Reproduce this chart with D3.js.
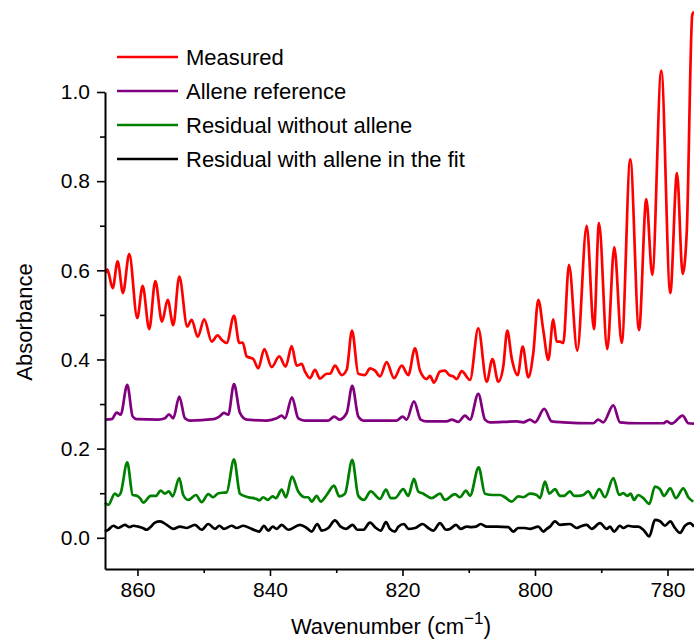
<!DOCTYPE html>
<html>
<head>
<meta charset="utf-8">
<script src="https://cdn.jsdelivr.net/npm/d3@7"></script>
<style>
  body { margin: 0; background: #fff; }
  text { font-family: "Liberation Sans", Arial, sans-serif; }
</style>
</head>
<body>
<div id="spectra"></div>
<script>
    // datos (numero de onda en cm-1, absorbancia)
    var measuredWn = [864.75,864.56,863.74,862.99,862.19,861.24,860.03,859.22,858.22,857.31,
      856.30,855.44,854.60,853.69,852.48,851.82,850.91,849.92,848.80,847.90,
      847.29,846.54,845.43,844.63,844.12,843.52,842.52,841.77,840.86,839.74,
      838.60,837.63,836.72,835.97,835.22,834.72,833.96,833.21,832.45,831.44,
      830.94,830.19,829.18,828.42,827.62,826.67,825.66,824.91,824.15,823.40,
      822.39,821.28,820.12,819.13,818.11,817.36,816.35,815.85,815.25,814.34,
      813.59,812.94,812.33,811.82,811.06,809.81,808.56,807.29,806.42,805.54,
      804.79,804.18,803.52,802.61,801.86,801.01,800.26,799.50,798.75,797.99,
      797.24,796.73,796.23,795.73,794.87,793.62,792.20,791.10,790.34,789.09,
      788.03,786.91,785.62,784.30,783.20,782.30,780.94,779.58,778.57,777.71,
      777.10,776.26,776.0];
    var measuredAbs = [0.594,0.602,0.560,0.620,0.549,0.637,0.493,0.565,0.468,0.576,
      0.485,0.534,0.477,0.586,0.474,0.489,0.451,0.490,0.440,0.454,
      0.444,0.437,0.498,0.437,0.438,0.407,0.401,0.380,0.423,0.383,
      0.407,0.384,0.430,0.386,0.390,0.373,0.358,0.377,0.357,0.368,
      0.368,0.386,0.365,0.377,0.465,0.368,0.365,0.380,0.375,0.362,
      0.394,0.358,0.386,0.365,0.425,0.375,0.356,0.363,0.348,0.373,
      0.375,0.365,0.362,0.356,0.374,0.354,0.470,0.350,0.401,0.350,
      0.384,0.465,0.403,0.365,0.429,0.360,0.414,0.534,0.466,0.399,
      0.490,0.440,0.440,0.437,0.612,0.420,0.700,0.468,0.706,0.423,
      0.652,0.437,0.849,0.466,0.760,0.590,1.048,0.549,0.818,0.592,
      0.684,1.173,1.18];

    var alleneWn = [864.91,863.89,863.14,862.54,861.54,860.72,860.12,856.86,855.85,855.25,
      854.60,853.69,852.83,852.08,848.56,847.65,846.94,846.30,845.43,844.53,
      843.52,840.50,838.99,838.23,837.74,836.68,835.73,834.72,831.20,830.30,
      829.54,828.42,827.58,826.67,825.92,820.88,819.97,819.37,818.27,817.25,
      816.35,813.33,812.57,811.58,810.57,809.81,808.56,807.55,806.79,802.76,
      801.77,800.76,800.00,798.60,797.48,795.73,791.20,790.45,789.69,788.18,
      787.17,784.65,780.63,780.12,779.37,777.71,776.86,776.00];
    var alleneAbs = [0.265,0.266,0.281,0.276,0.343,0.272,0.266,0.265,0.268,0.277,
      0.268,0.317,0.268,0.263,0.266,0.272,0.280,0.276,0.345,0.280,
      0.265,0.263,0.268,0.274,0.268,0.315,0.268,0.263,0.263,0.272,
      0.265,0.280,0.341,0.272,0.263,0.263,0.272,0.265,0.306,0.265,
      0.261,0.261,0.265,0.260,0.274,0.265,0.323,0.265,0.259,0.261,
      0.259,0.265,0.259,0.289,0.261,0.259,0.257,0.265,0.259,0.297,
      0.259,0.257,0.257,0.261,0.256,0.274,0.257,0.256];

    var residNoAlleneWn = [864.91,864.41,863.40,862.90,862.54,861.54,860.72,860.03,859.62,859.12,
      858.01,857.21,856.50,855.85,855.25,854.69,853.69,853.09,852.33,851.17,
      850.31,849.31,848.56,847.80,846.54,845.43,844.53,843.28,842.01,841.62,
      841.01,840.35,839.59,839.10,838.23,837.59,836.68,835.73,834.72,834.22,
      833.71,832.95,832.35,831.44,830.34,829.54,828.68,827.58,826.67,825.81,
      824.80,823.40,822.49,821.78,821.13,819.88,819.13,818.27,817.62,816.86,
      815.59,814.34,813.59,812.08,811.32,810.42,809.81,808.50,807.55,806.29,
      805.28,804.53,803.52,802.52,801.77,800.76,799.74,799.25,798.49,797.84,
      796.98,796.23,795.62,794.72,794.11,793.46,792.71,791.96,791.20,790.30,
      789.44,788.18,787.28,786.67,786.07,785.56,785.06,784.41,783.65,782.75,
      781.89,781.13,780.53,779.58,778.72,777.62,776.86,776.11];
    var residNoAlleneAbs = [0.078,0.074,0.099,0.094,0.100,0.169,0.096,0.094,0.089,0.079,
      0.094,0.094,0.106,0.099,0.104,0.093,0.134,0.096,0.085,0.096,
      0.080,0.098,0.091,0.100,0.102,0.176,0.099,0.091,0.087,0.084,
      0.091,0.085,0.093,0.089,0.108,0.091,0.137,0.104,0.091,0.091,
      0.081,0.094,0.081,0.096,0.117,0.093,0.099,0.175,0.094,0.085,
      0.104,0.087,0.108,0.089,0.089,0.109,0.094,0.132,0.104,0.099,
      0.089,0.099,0.085,0.098,0.091,0.106,0.094,0.158,0.099,0.096,
      0.096,0.091,0.081,0.093,0.091,0.099,0.096,0.089,0.126,0.099,
      0.109,0.094,0.094,0.104,0.094,0.094,0.096,0.104,0.089,0.109,
      0.091,0.134,0.096,0.100,0.094,0.099,0.085,0.096,0.089,0.076,
      0.115,0.109,0.094,0.111,0.089,0.111,0.091,0.081];

    var residAlleneWn = [864.91,864.41,863.65,862.90,861.89,861.24,860.63,859.88,859.22,858.61,
      858.11,857.36,856.60,855.59,854.60,853.59,852.57,851.32,850.31,849.31,
      848.30,847.65,846.94,845.78,845.03,844.03,842.76,841.62,840.91,840.26,
      839.59,838.99,838.23,837.24,835.47,834.46,833.71,832.86,832.20,831.20,
      830.19,829.33,828.53,827.52,826.82,825.92,824.91,824.00,823.29,822.49,
      821.89,821.13,820.63,819.77,819.13,818.11,816.95,816.11,815.35,814.34,
      813.43,812.83,811.92,811.22,810.31,809.55,808.91,808.20,807.29,805.78,
      804.03,803.28,802.52,801.51,800.76,799.50,798.75,798.23,797.74,796.98,
      796.23,794.72,793.71,793.21,792.20,791.44,790.19,789.18,788.68,788.08,
      787.17,786.67,785.92,785.16,784.41,783.65,782.75,781.89,781.13,780.38,
      779.58,778.87,778.11,777.36,776.60,776.00];
    var residAlleneAbs = [0.014,0.018,0.027,0.022,0.029,0.024,0.027,0.025,0.022,0.018,
      0.023,0.034,0.037,0.029,0.020,0.025,0.022,0.029,0.018,0.031,
      0.020,0.027,0.020,0.027,0.022,0.027,0.020,0.014,0.027,0.016,
      0.025,0.020,0.029,0.018,0.029,0.022,0.014,0.031,0.016,0.022,
      0.039,0.025,0.020,0.029,0.018,0.018,0.034,0.022,0.016,0.035,
      0.020,0.014,0.025,0.031,0.020,0.022,0.031,0.022,0.016,0.033,
      0.018,0.020,0.029,0.020,0.025,0.024,0.025,0.031,0.025,0.025,
      0.024,0.014,0.022,0.022,0.020,0.025,0.014,0.020,0.025,0.037,
      0.029,0.031,0.022,0.025,0.029,0.020,0.033,0.020,0.025,0.014,
      0.027,0.022,0.027,0.025,0.025,0.018,0.003,0.040,0.037,0.027,
      0.037,0.022,0.011,0.027,0.033,0.025];

    var seriesNames = ["Measured", "Allene reference", "Residual without allene", "Residual with allene in the fit"];
    var seriesColors = ["#ff0000", "#800080", "#008000", "#000000"];

    var xMajor = [860, 840, 820, 800, 780];
    var xMinor = [850, 830, 810, 790];
    var yMajor = [0.0, 0.2, 0.4, 0.6, 0.8, 1.0];
    var yMinor = [0.1, 0.3, 0.5, 0.7, 0.9];

    // tamanos del grafico
    var W = 694, H = 640;
    var margin = {top: 92, right: 0, bottom: 71, left: 105},
      width = W - margin.left - margin.right,
      height = H - margin.top - margin.bottom;

    var svg = d3.select("#spectra")
      .append("svg")
        .attr("width", W)
        .attr("height", H)
      .append("g")
        .attr("transform", "translate(" + margin.left + "," + margin.top + ")");

    // eje x invertido (numero de onda decreciente)
    var x = d3.scaleLinear()
      .domain([864.9, 776.0])
      .range([0, width]);

    var y = d3.scaleLinear()
      .domain([-0.07, 1.0])
      .range([height, 0]);

    // lineas
    var line = d3.line()
      .x(function(d) { return x(d.wn); })
      .y(function(d) { return y(d.abs); })
      .curve(d3.curveMonotoneX);

    function pairs(wn, abs) {
      return wn.map(function(w, i) { return {wn: w, abs: abs[i]}; });
    }

    var series = [
      pairs(measuredWn, measuredAbs),
      pairs(alleneWn, alleneAbs),
      pairs(residNoAlleneWn, residNoAlleneAbs),
      pairs(residAlleneWn, residAlleneAbs)
    ];

    series.forEach(function(s, i) {
      svg.append("path")
        .datum(s)
        .attr("fill", "none")
        .attr("stroke", seriesColors[i])
        .attr("stroke-width", 2.7)
        .attr("stroke-linejoin", "round")
        .attr("d", line);
    });

    // ejes
    var xAxis = svg.append("g")
      .attr("transform", "translate(0," + height + ")")
      .call(d3.axisBottom(x).tickValues(xMajor).tickSize(7).tickSizeOuter(0).tickPadding(6).tickFormat(d3.format("d")));
    svg.append("g")
      .attr("transform", "translate(0," + height + ")")
      .call(d3.axisBottom(x).tickValues(xMinor).tickSize(4).tickSizeOuter(0).tickFormat(""))
      .select(".domain").remove();

    var yAxis = svg.append("g")
      .call(d3.axisLeft(y).tickValues(yMajor).tickSize(8).tickSizeOuter(0).tickPadding(7).tickFormat(d3.format(".1f")));
    svg.append("g")
      .call(d3.axisLeft(y).tickValues(yMinor).tickSize(5).tickSizeOuter(0).tickFormat(""))
      .select(".domain").remove();

    svg.selectAll(".domain").attr("stroke-width", 2);
    svg.selectAll(".tick line").attr("stroke-width", 1.6);
    svg.selectAll(".tick text")
      .attr("font-size", 21)
      .attr("font-family", "Liberation Sans, Arial, sans-serif")
      .attr("fill", "#000");

    // titulos de los ejes
    var xt = svg.append("text")
      .attr("x", 286)
      .attr("y", height + 65)
      .style("text-anchor", "middle")
      .attr("font-size", 22);
    xt.append("tspan").text("Wavenumber ");
    xt.append("tspan").attr("font-size", 23).text("(");
    xt.append("tspan").text("cm");
    xt.append("tspan").attr("dy", -10).attr("font-size", 17).text("\u22121");
    xt.append("tspan").attr("dy", 10).attr("font-size", 23).text(")");

    svg.append("text")
      .attr("transform", "rotate(-90)")
      .attr("x", -(322 - margin.top))
      .attr("y", -margin.left + 32)
      .style("text-anchor", "middle")
      .attr("font-size", 22)
      .text("Absorbance");

    // leyenda
    var legend = svg.append("g")
      .attr("transform", "translate(" + (117 - margin.left) + "," + (57 - margin.top) + ")");

    seriesNames.forEach(function(name, i) {
      legend.append("line")
        .attr("x1", 0).attr("x2", 61)
        .attr("y1", i * 34).attr("y2", i * 34)
        .attr("stroke", seriesColors[i])
        .attr("stroke-width", 2.4);
      legend.append("text")
        .attr("x", 69)
        .attr("y", i * 34)
        .attr("dy", "0.36em")
        .attr("font-size", 22)
        .text(name);
    });
</script>
</body>
</html>
